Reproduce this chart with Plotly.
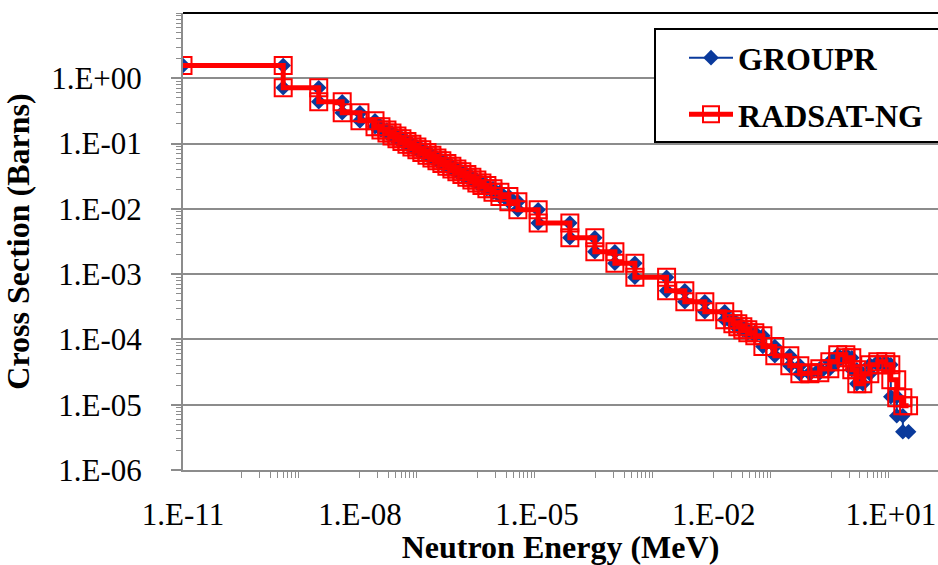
import plotly.graph_objects as go

# ---- data ----
energy_bounds_mev = [1e-11, 5.0e-10, 2.0e-9, 5.0e-9, 1.0e-8, 1.8e-8, 2.27e-8, 2.87e-8, 3.49e-8,
                     4.24e-8, 5.15e-8, 6.26e-8, 7.6e-8, 9.24e-8, 1.12e-7, 1.37e-7, 1.66e-7,
                     2.02e-7, 2.45e-7, 2.98e-7, 3.62e-7, 4.4e-7, 5.35e-7, 6.5e-7, 7.9e-7,
                     9.6e-7, 1.17e-6, 1.42e-6, 1.8e-6, 2.36e-6, 3.35e-6, 4.76e-6, 1.05e-5,
                     3.62e-5, 9.6e-5, 2.1e-4, 4.58e-4, 1.58e-3, 3.22e-3, 7.03e-3, 1.53e-2,
                     2.1e-2, 2.55e-2, 3.1e-2, 3.77e-2, 4.95e-2, 6.78e-2, 0.108, 0.194, 0.287,
                     0.424, 0.626, 0.925, 1.26, 1.73, 2.18, 2.65, 3.35, 4.40, 6.02, 8.23,
                     10.0, 12.6, 16.0, 20.0]

radsat_xs_barns = [1.57, 0.715, 0.437, 0.296, 0.223, 0.181, 0.161, 0.145, 0.131, 0.119, 0.108,
                   0.098, 0.089, 0.0807, 0.0731, 0.0664, 0.0602, 0.0547, 0.0496, 0.0449,
                   0.0408, 0.0370, 0.0335, 0.0305, 0.0276, 0.0250, 0.0227, 0.0204, 0.0180,
                   0.0154, 0.0129, 0.00969, 0.00606, 0.00361, 0.00220, 0.00147, 8.97e-4,
                   5.57e-4, 3.78e-4, 2.66e-4, 2.00e-4, 1.74e-4, 1.56e-4, 1.41e-4, 1.27e-4,
                   1.14e-4, 7.81e-5, 5.63e-5, 3.96e-5, 2.98e-5, 3.09e-5, 3.56e-5, 4.55e-5,
                   5.83e-5, 5.25e-5, 3.44e-5, 2.10e-5, 2.98e-5, 4.10e-5, 4.55e-5, 4.10e-5,
                   2.42e-5, 1.28e-5, 9.66e-6]

groupr_xs_barns = [1.57, 0.715, 0.437, 0.296, 0.223, 0.181, 0.161, 0.145, 0.131, 0.119, 0.108,
                   0.098, 0.089, 0.0807, 0.0731, 0.0664, 0.0602, 0.0547, 0.0496, 0.0449,
                   0.0408, 0.0370, 0.0335, 0.0305, 0.0276, 0.0250, 0.0227, 0.0204, 0.0180,
                   0.0154, 0.0129, 0.00969, 0.00606, 0.00361, 0.00220, 0.00147, 8.97e-4,
                   5.57e-4, 3.78e-4, 2.66e-4, 2.00e-4, 1.74e-4, 1.56e-4, 1.41e-4, 1.27e-4,
                   1.14e-4, 7.81e-5, 5.63e-5, 3.96e-5, 2.98e-5, 3.09e-5, 3.56e-5, 4.55e-5,
                   5.83e-5, 5.25e-5, 3.44e-5, 2.10e-5, 2.98e-5, 4.10e-5, 4.55e-5, 4.10e-5,
                   1.33e-5, 6.79e-6, 3.86e-6]

series_names = ["GROUPR", "RADSAT-NG"]

x_label_vals = [1e-11, 1e-8, 1e-5, 1e-2, 1e1]
x_label_text = ["1.E-11", "1.E-08", "1.E-05", "1.E-02", "1.E+01"]
x_mark_decades = [1e-10, 1e-8, 1e-6, 1e-4, 1e-2, 1e0]

y_label_vals = [1e-6, 1e-5, 1e-4, 1e-3, 1e-2, 1e-1, 1e0]
y_label_text = ["1.E-06", "1.E-05", "1.E-04", "1.E-03", "1.E-02", "1.E-01", "1.E+00"]


def step_points(bounds, vals):
    xs, ys = [], []
    for i, v in enumerate(vals):
        xs += [bounds[i], bounds[i + 1]]
        ys += [v, v]
    return xs, ys


x_minor = [d * m for d in x_mark_decades for m in range(1, 10)]

FONT = "Liberation Serif"
GRAY = "#8c8c8c"

gx, gy = step_points(energy_bounds_mev, groupr_xs_barns)
rx, ry = step_points(energy_bounds_mev, radsat_xs_barns)

fig = go.Figure()
fig.add_trace(go.Scatter(
    x=gx, y=gy, mode="lines+markers", name=series_names[0], legendgroup="g1",
    line=dict(color="#0a3a9c", width=2),
    marker=dict(symbol="diamond", size=12, color="#0a3a9c"),
))
fig.add_trace(go.Scatter(
    x=rx, y=ry, mode="lines+markers", name=series_names[1], legendgroup="g2",
    line=dict(color="#ff0000", width=5),
    marker=dict(symbol="square-open", size=17, color="#ff0000", line=dict(width=2, color="#ff0000")),
))

fig.update_layout(
    width=938, height=565,
    margin=dict(l=183, r=0, t=13, b=95),
    plot_bgcolor="white", paper_bgcolor="white",
    font=dict(family=FONT, color="black", size=31),
    showlegend=True,
    legend=dict(
        x=(684 - 183) / 755, y=0.962, xanchor="left", yanchor="top",
        bgcolor="rgba(0,0,0,0)", borderwidth=0,
        font=dict(family=FONT, size=32, color="black", weight="bold"),
        itemwidth=44, tracegroupgap=12,
    ),
    xaxis=dict(
        type="log", range=[-11, 1.8],
        showgrid=False, zeroline=False,
        showline=True, linecolor=GRAY, linewidth=2,
        tickmode="array", tickvals=x_label_vals, ticktext=x_label_text,
        ticks="", ticklabelstandoff=16,
        tickfont=dict(family=FONT, size=31, color="black"),
        minor=dict(tickvals=x_minor, ticks="outside", ticklen=6, tickwidth=1,
                   tickcolor=GRAY, showgrid=False),
        title=dict(text="Neutron Energy (MeV)", standoff=6,
                   font=dict(family=FONT, size=32, color="black", weight="bold")),
    ),
    yaxis=dict(
        type="log", range=[-6, 1],
        showgrid=True, gridcolor=GRAY, gridwidth=2, zeroline=False,
        showline=True, linecolor=GRAY, linewidth=2,
        tickmode="array", tickvals=y_label_vals, ticktext=y_label_text,
        ticks="outside", ticklen=10, tickwidth=2, tickcolor=GRAY,
        ticklabelstandoff=23,
        tickfont=dict(family=FONT, size=31, color="black"),
        minor=dict(dtick="D1", ticks="outside", ticklen=5, tickwidth=1,
                   tickcolor=GRAY, showgrid=False),
        title=dict(text="Cross Section (Barns)", standoff=12,
                   font=dict(family=FONT, size=32, color="black", weight="bold")),
    ),
    shapes=[
        dict(type="line", xref="paper", yref="paper", x0=0, x1=1, y0=1, y1=1,
             line=dict(color="black", width=2), layer="above"),
        dict(type="rect", xref="paper", yref="paper",
             x0=(655 - 183) / 755, x1=1.05, y0=(470 - 142) / 457, y1=(470 - 29) / 457,
             line=dict(color="black", width=2), fillcolor="white", layer="above"),
    ],
)

fig.write_html("out.html")
